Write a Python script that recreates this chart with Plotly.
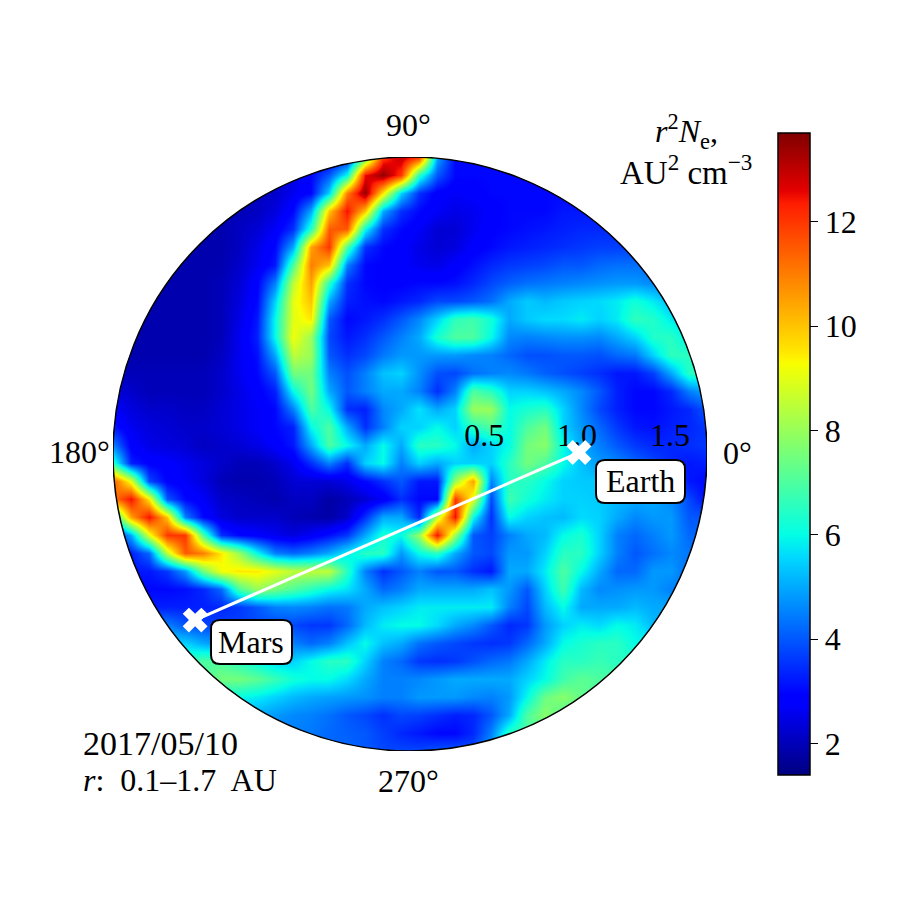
"""Polar map of r^2 Ne on 2017/05/10 with Earth and Mars marked."""

import numpy as np
import plotly.graph_objs as go

# map values sampled on a square grid over the disc, rows from top to bottom
density = [
    [2.3,2.3,2.3,2.3,2.3,2.3,2.3,2.3,2.3,2.3,2.3,2.5,2.5,3,7,12,13,12,5,3,3,3,3,3,3,3,3,3,3,3,3,3,3,3],
    [2.3,2.3,2.3,2.3,2.3,2.3,2.3,2.3,2.3,2.3,2.4,3,4,6,12.5,13.5,12,6.5,4,3,3,3,3,3,3,3,3,3,3,3,3,3,3,3],
    [2.1,2.1,2.1,2.1,2.1,2.1,2.1,2.1,2.1,2.2,2.6,3,5.5,11,13.5,9.5,5.5,3.5,2.8,2.7,2.8,3,3,3,3,3,3,3,3,3,3,3,3,3],
    [2,2,2,2,2,2,2,2,2.1,2.4,3,5,10,12.5,10,5,3.5,3,2.7,2.5,2.6,2.8,3,3,3,3.2,3.2,3.2,3.2,3.2,3.2,3.2,3.2,3.2],
    [1.9,1.9,1.9,1.9,1.9,1.9,1.9,2.1,2.3,2.7,3.5,6.5,11.5,11.5,6,3.5,3,2.7,2.3,2.3,2.6,2.9,3,3.1,3.2,3.3,3.4,3.4,3.4,3.4,3.4,3.4,3.4,3.4],
    [1.9,1.9,1.9,1.9,1.9,1.9,1.9,2.1,2.5,3,5,10.5,12,7,3.5,3,2.8,2.5,2.3,2.4,2.8,3,3.2,3.3,3.4,3.5,3.6,3.7,3.7,3.7,3.7,3.7,3.7,3.7],
    [1.9,1.9,1.9,1.9,1.9,1.9,1.9,2.2,2.6,3.2,7,11,10,4.5,3,2.9,2.8,2.6,2.5,2.8,3.1,3.4,3.6,3.7,3.8,4,4,4.2,4.3,4.3,4.2,4.2,4.2,4.2],
    [1.9,1.9,1.9,1.9,1.9,1.9,2,2.3,2.9,4.5,8.5,10.5,6.5,3.5,3,2.9,2.9,3,3,3.1,3.4,3.8,4.1,4.3,4.4,4.5,4.6,4.7,4.8,4.8,4.6,4.4,4.3,4.3],
    [1.9,1.9,1.9,1.9,1.9,1.9,2,2.4,3,5.5,9,10,5,3.3,3.1,3,3.2,3.4,3.8,3.8,4,4.3,5,5.4,5.2,5.4,5.5,5.6,5.8,6.2,5.8,5.2,4.7,4.7],
    [1.9,1.9,1.9,1.9,1.9,1.9,2,2.5,3.2,6,9,9.5,4,3,3.2,3.5,4,4.6,5.5,6.6,6.8,6.2,5,5.4,5.6,5.6,5.8,5.5,5.8,6.6,6.4,5.8,5.2,5],
    [1.9,1.9,1.9,1.9,1.9,1.9,2,2.6,3.3,6,9.2,8,3.8,3.2,3.5,4,4.5,5,6.3,7,7,6,4.6,4.5,4.6,4.7,4.7,4.6,5,5.5,6.4,6.5,5.8,5.5],
    [1.9,1.9,1.9,1.9,1.9,1.9,2.1,2.6,3.1,5,8.5,8,4,3.5,3.8,4.4,4.8,4.8,4.8,4.8,4.6,4.5,4.2,3.9,3.9,4,4,3.9,4.2,4.4,5.5,6.6,6.5,6],
    [2,2,2,2,2,2,2.2,2.6,3,4,7.5,7.5,4.5,3.9,4.5,5.3,5.5,4.7,3.9,3.8,4.3,4.5,4.6,4.4,4.1,3.9,3.7,3.5,3.2,3.2,3.7,5,6.5,6.5],
    [2.4,2.2,2,2,2,2,2.2,2.5,2.8,3.3,6,7.5,5,4,4.5,5,5,4.5,3.5,4.5,7,6.5,5.5,5.5,5.3,5,4.6,4,3.3,3,3,3.4,4.5,5],
    [2.7,2.4,2.2,2.2,2.1,2.1,2.3,2.5,2.7,3,4.5,7,6,3.5,3.3,4.6,5,5.7,5,5.5,8,8,6,6.3,6.5,5.5,4.6,3.8,3.3,3,3,3.2,3.4,4],
    [3.2,2.6,2.4,2.3,2.2,2.2,2.3,2.5,2.7,3,3.3,6,7,5,3.5,4.5,5.5,5.5,6,5.5,6.5,7,6,7,7.5,5.5,4.8,4.2,3.6,3.2,3.1,3.3,3.4,3.6],
    [4.5,2.8,2.5,2.4,2.3,2.1,2.2,2.3,2.5,2.8,3.2,5,7,6,5,6,5,6.5,6.5,6,5,5.5,6,7.5,7.8,6,5,4.5,4,3.6,3.4,3.4,3.5,3.6],
    [6.5,3.3,2.9,2.8,2.6,2.4,2.2,2,2,2.2,2.6,3.5,4.5,3.5,5.5,6,4.5,5.5,5,5.5,5.5,5.5,6.5,7.5,7,6,5.3,4.8,4.6,4.2,3.8,3.4,3.2,3.3],
    [11.5,9,3.8,2.9,2.7,2.4,2,1.9,1.9,2,2.3,2.3,2.3,2.5,3,3.5,4,3.2,3.2,8,10.5,4.5,6.5,6.5,6,5.5,5.4,5.4,5.2,5,4.6,4,3.2,3],
    [11,12.5,9.5,4,3,2.7,2.2,2.1,2,1.9,2.1,2.1,1.8,2,2.3,2.7,3.5,3,3,12,9,3.8,6.8,6.2,5.8,5.5,5.5,5.4,5.2,5,5,4.6,3.8,3],
    [6,10.5,12.5,10,4.5,3,2.4,2.2,2.2,2.2,2,1.9,1.8,2.2,3.5,5,5,3.4,8.5,12.5,6,3.5,6,5.5,5.3,5.2,5.6,5.5,5,4.6,4.8,4.8,4,4],
    [3,5,9,12,12,7,3.5,3,2.8,2.6,2.4,2.7,3.1,3.6,5,6.3,6,8,12.5,8,4,3.7,4.5,5,5.2,6,6.3,5.5,4.5,4.2,4.5,4.8,4.2,4.2],
    [3.3,3.3,4.2,8.5,11.5,11,9.5,8,6,4.5,4.2,4.5,5,5.8,6.5,6.5,4.8,6,6.5,5,4,3.8,4.8,4.8,5.5,6.5,6.5,5.5,4.5,4,4.3,4.6,4.4,4.4],
    [3.2,3.2,3.2,3.6,4.8,7.5,9.2,9.5,9.5,9,8.5,8.5,8.5,6.5,4.5,3.5,4,4.5,4,4,3.5,3.2,5,5,5.8,7,6,5,4.2,4.2,4.8,4.8,4.2,4.2],
    [3,3,3,3,3.1,3.4,4.2,7,8,7.5,7,6.5,6,5.7,5,4.2,4.5,5,5,5,5,5.3,4.8,4,5.5,6.8,5.2,4.6,4.7,4.8,4.8,4.5,4.5,4.5],
    [3.3,3.3,3.3,3.3,3.3,3.3,3.4,3.6,4,4.5,4.6,4.5,4.3,4.4,5,5.3,5.5,5.8,5.8,5.8,5.8,5.8,4.5,3.8,5.2,6,5,5,5,5.2,5,5,5,5],
    [4.5,4.5,4.5,4.5,4,3.8,3.7,3.7,3.8,3.8,3.8,3.6,3.6,4.2,5.2,5.8,6,6,5.6,5,4.6,4,3.4,3.6,4.8,5.5,5.8,5.6,6,5.8,5.2,5.2,5.2,5.2],
    [5.5,5.5,5.5,5.5,5.5,5,4.7,4.8,4.8,4.7,4.5,4.2,4.5,5.3,6,5.3,5,4.3,4,3.8,3.6,3.5,3.6,4.2,5,6,6.3,6.5,6.5,6,6,6,6,6],
    [6.5,6.5,6.5,6.5,6.5,7,7,6.5,6,5.5,5.5,6,6.5,6.5,5.5,4.5,4.2,3.6,3.5,3.6,3.9,4.2,4.4,5,5.8,6.5,6.5,6.7,6.5,6.5,6.5,6.5,6.5,6.5],
    [7,7,7,7,7,7,7.5,7.5,7.2,6.7,6.2,6,6,5.6,5,4.5,4.5,4.6,4.8,5,5,5,5,5.5,6,6.8,7.2,7,7,7,7,7,7,7],
    [6,6,6,6,6,6,6,6,5.8,5.5,5.2,5,4.9,4.8,4.7,4.5,4.5,4.8,4.8,4.8,4.6,4.5,4.8,6,7.4,7.8,7.3,7,7,7,7,7,7,7],
    [5,5,5,5,5,5,5,5,5,4.8,4.6,4.5,4.3,4,3.8,3.5,3.8,3.7,3.5,3.3,3.4,4,5,7,7.8,7,7,7,7,7,7,7,7,7],
    [4.5,4.5,4.5,4.5,4.5,4.5,4.5,4.5,4.5,4.5,4.5,4.4,4.2,4.1,4,3.7,3.4,3.2,3,3,3.4,4.5,6.5,7,7,7,7,7,7,7,7,7,7,7],
    [4.2,4.2,4.2,4.2,4.2,4.2,4.2,4.2,4.2,4.2,4.2,4.2,4.2,4.2,4,3.8,3.8,3.8,4,4,4,5,6.5,7,7,7,7,7,7,7,7,7,7,7],
]

planet_names = ["Earth", "Mars"]
planet_r = [1.01, 1.563]
planet_theta = [0.5, 217.7]

radial_ticks = [0.5, 1.0, 1.5]
radial_tick_labels = ["0.5", "1.0", "1.5"]
colorbar_ticks = [2, 4, 6, 8, 10, 12]

R_MIN = 0.1
R_MAX = 1.7
FIG_SIZE = 900
SERIF = "Liberation Serif"
TEXT_SIZE = 32

# matplotlib jet breakpoints
JET = [
    [0.0, "rgb(0,0,128)"], [0.11, "rgb(0,0,255)"], [0.125, "rgb(0,0,255)"],
    [0.34, "rgb(0,217,255)"], [0.35, "rgb(0,228,247)"], [0.375, "rgb(2,255,229)"],
    [0.64, "rgb(247,255,0)"], [0.65, "rgb(255,242,0)"], [0.66, "rgb(255,230,0)"],
    [0.89, "rgb(255,29,0)"], [0.91, "rgb(228,0,0)"], [1.0, "rgb(128,0,0)"],
]


def paper_x(px):
    return px / FIG_SIZE


def paper_y(py):
    return 1 - py / FIG_SIZE


def polar_xy(r, theta):
    """Radial axis starts at R_MIN, so the disc centre sits at r = R_MIN."""
    rho = np.asarray(r) - R_MIN
    angle = np.radians(theta)
    return rho * np.cos(angle), rho * np.sin(angle)


def rounded_box(x0, y0, x1, y1, rad=9):
    """Rounded label box, given in figure pixels."""
    path = (
        f"M {paper_x(x0 + rad)},{paper_y(y0)} L {paper_x(x1 - rad)},{paper_y(y0)} "
        f"Q {paper_x(x1)},{paper_y(y0)} {paper_x(x1)},{paper_y(y0 + rad)} "
        f"L {paper_x(x1)},{paper_y(y1 - rad)} "
        f"Q {paper_x(x1)},{paper_y(y1)} {paper_x(x1 - rad)},{paper_y(y1)} "
        f"L {paper_x(x0 + rad)},{paper_y(y1)} "
        f"Q {paper_x(x0)},{paper_y(y1)} {paper_x(x0)},{paper_y(y1 - rad)} "
        f"L {paper_x(x0)},{paper_y(y0 + rad)} "
        f"Q {paper_x(x0)},{paper_y(y0)} {paper_x(x0 + rad)},{paper_y(y0)} Z"
    )
    return dict(type="path", path=path, xref="paper", yref="paper", layer="above",
                fillcolor="white", line=dict(color="black", width=2))


def label(text, px, py, size=TEXT_SIZE, anchor="center"):
    return dict(text=text, x=paper_x(px), y=paper_y(py), xref="paper", yref="paper",
                xanchor=anchor, yanchor="middle", align=anchor, showarrow=False,
                font=dict(family=SERIF, size=size, color="black"))


z = np.array(density)
extent = R_MAX - R_MIN
grid_x = np.linspace(-extent, extent, z.shape[1])
grid_y = np.linspace(extent, -extent, z.shape[0])

fig = go.Figure()

fig.add_trace(go.Heatmap(
    x=grid_x, y=grid_y, z=z, zsmooth="best", zmin=1.4, zmax=13.7,
    colorscale=JET, hoverinfo="skip",
    colorbar=dict(
        x=paper_x(778), xanchor="left", y=paper_y(454), yanchor="middle",
        len=642 / FIG_SIZE, thickness=32, xpad=0, ypad=0,
        outlinecolor="black", outlinewidth=1.5,
        tickvals=colorbar_ticks, ticks="outside", ticklen=8, tickcolor="black",
        tickfont=dict(family=SERIF, size=TEXT_SIZE, color="black"),
    ),
))

tick_x, tick_y = polar_xy(radial_ticks, [0] * len(radial_ticks))
fig.add_trace(go.Scatter(
    x=tick_x, y=tick_y, mode="text", text=radial_tick_labels, textposition="top center",
    textfont=dict(family=SERIF, size=TEXT_SIZE, color="black"), showlegend=False,
))

planet_x, planet_y = polar_xy(planet_r, planet_theta)
fig.add_trace(go.Scatter(
    x=planet_x, y=planet_y, mode="lines+markers", showlegend=False,
    line=dict(color="white", width=3),
    marker=dict(symbol="x", size=22, color="white", line=dict(width=0)),
))

# white mask over the square corners of the heatmap
circle_angle = np.radians(np.arange(0, 360, 1))
circle_pts = " L ".join(f"{extent * np.cos(a):.4f},{extent * np.sin(a):.4f}" for a in circle_angle)
outer = extent * 1.1
mask_path = f"M {-outer},{-outer} L {outer},{-outer} L {outer},{outer} L {-outer},{outer} Z M {circle_pts} Z"

shapes = [
    dict(type="path", path=mask_path, xref="x", yref="y", layer="above",
         fillcolor="white", line=dict(width=0)),
    dict(type="circle", x0=-extent, x1=extent, y0=-extent, y1=extent, xref="x", yref="y",
         layer="above", line=dict(color="black", width=1.5)),
    rounded_box(596, 460, 685, 503),
    rounded_box(211, 620, 292, 664),
]

annotations = [
    label("90°", 408, 125),
    label("180°", 79, 452),
    label("0°", 737, 453),
    label("270°", 408, 781),
    label(planet_names[0], 640, 481),
    label(planet_names[1], 251, 642),
    label("2017/05/10", 81, 743, size=34, anchor="left"),
    label("<i>r</i>:\u00a0 0.1–1.7\u00a0 AU", 81, 780, anchor="left"),
    label("<i>r</i><sup>2</sup><i>N</i><sub>e</sub>,", 686, 131, size=32),
    label("AU<sup>2</sup> cm<sup>−3</sup>", 686, 170, size=33),
]

fig.update_layout(
    width=FIG_SIZE, height=FIG_SIZE,
    margin=dict(l=0, r=0, t=0, b=0),
    paper_bgcolor="white", plot_bgcolor="white",
    showlegend=False,
    xaxis=dict(visible=False, range=[-extent, extent], domain=[paper_x(113), paper_x(707)]),
    yaxis=dict(visible=False, range=[-extent, extent], domain=[paper_y(751), paper_y(157)]),
    shapes=shapes,
    annotations=annotations,
)

# browser default body margin would shift the figure by 8px
fig.write_html("out.html", config={"displayModeBar": False},
               post_script="document.body.style.margin = '0';")
